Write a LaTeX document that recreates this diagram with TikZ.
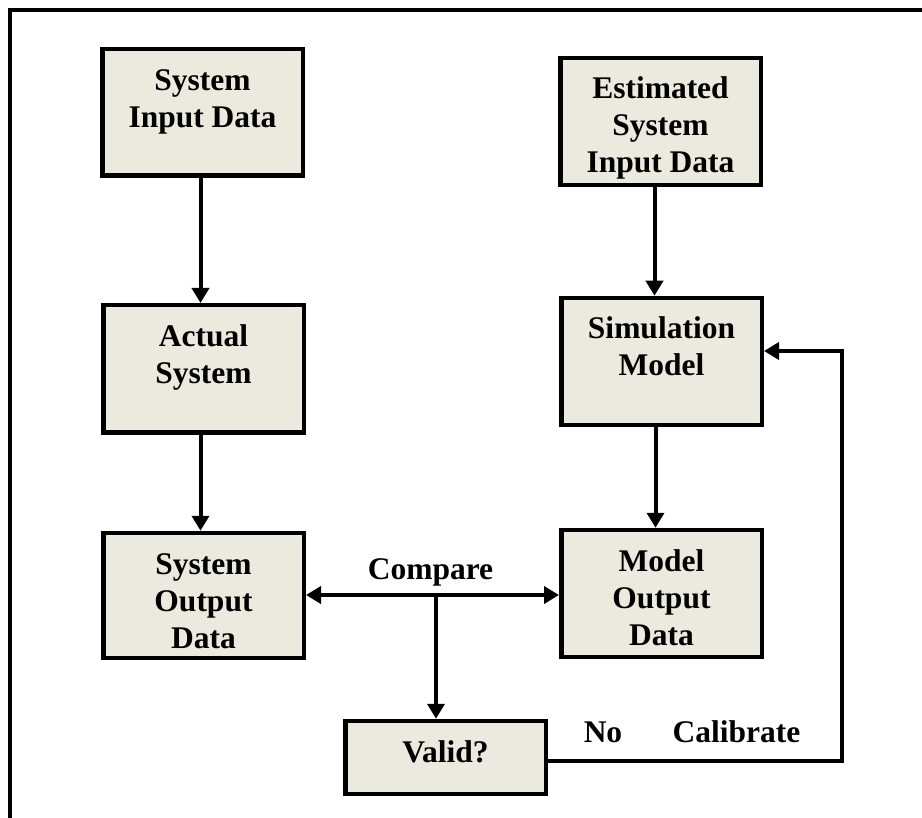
\documentclass[tikz,border=0pt]{standalone}
\usepackage{fontspec}
\setmainfont{Liberation Serif}
\usetikzlibrary{arrows.meta}
\definecolor{boxfill}{RGB}{236,233,223}
\newcommand{\boxtext}[3]{\parbox[c][#2][t]{#1}{\centering\rule{0pt}{41pt}#3}}
\begin{document}
\begin{tikzpicture}[x=1pt,y=-1pt,
  box/.style={draw=black,line width=4.5pt,fill=boxfill,inner sep=0pt,
    font=\fontsize{31.5}{37}\selectfont\bfseries},
  tip/.tip={Triangle[length=15pt,width=17pt]},
  conn/.style={line width=4pt,-tip},
  lbl/.style={font=\fontsize{31.5}{37}\selectfont\bfseries,inner sep=0pt,anchor=base}]
\useasboundingbox (0,0) rectangle (922,818);
% frame
\draw[line width=4pt] (10,818) -- (10,10.5) -- (922,10.5);
% boxes
\node[box] (sid) at (202.5,112.5) {\boxtext{200.5pt}{126.5pt}{System\\Input Data}};
\node[box] (act) at (203.5,369) {\boxtext{200.5pt}{127.5pt}{Actual\\System}};
\node[box] (sod) at (203.5,595.5) {\boxtext{200.5pt}{125pt}{System\\Output\\Data}};
\node[box] (est) at (660.5,121.5) {\boxtext{200.5pt}{127pt}{Estimated\\System\\Input Data}};
\node[box] (sim) at (661.5,361.5) {\boxtext{200.5pt}{127pt}{Simulation\\Model}};
\node[box] (mod) at (661.5,593.5) {\boxtext{200.5pt}{127pt}{Model\\Output\\Data}};
\node[box] (valid) at (445.5,757.5) {\boxtext{200.5pt}{73pt}{Valid?}};
% vertical connectors
\draw[conn] ([xshift=-2pt]sid.south) -- ([xshift=-2pt]sid.south |- act.north);
\draw[conn] ([xshift=-3pt]act.south) -- ([xshift=-3pt]act.south |- sod.north);
\draw[conn] ([xshift=-6pt]est.south) -- ([xshift=-6pt]est.south |- sim.north);
\draw[conn] ([xshift=-6pt]sim.south) -- ([xshift=-6pt]sim.south |- mod.north);
% compare
\coordinate (cmp) at (436,595);
\draw[line width=4pt,tip-tip] (sod.east |- cmp) -- (mod.west |- cmp);
\draw[conn] (cmp) -- (cmp |- valid.north);
\node[lbl] (cmplbl) at (430.5,579) {Compare};
% calibrate loop
\coordinate (c1) at (842,761);
\coordinate (c2) at (842,351);
\draw[conn] (valid.east |- c1) -- (c1) -- (c2) -- (sim.east |- c2);
\node[lbl] (nolbl) at (603,742) {No};
\node[lbl] (callbl) at (736.5,742) {Calibrate};
\end{tikzpicture}
\end{document}
